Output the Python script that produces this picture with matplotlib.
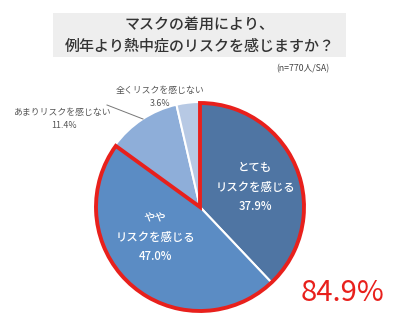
import matplotlib
matplotlib.use("Agg")
import matplotlib.pyplot as plt
from matplotlib.patches import Wedge, Rectangle

plt.rcParams['font.family'] = ['Noto Sans CJK JP', 'DejaVu Sans']

title = "マスクの着用により、\n例年より熱中症のリスクを感じますか？"
note = "(n=770人/SA)"
categories = ["とても\nリスクを感じる", "やや\nリスクを感じる", "あまりリスクを感じない", "全くリスクを感じない"]
values = [37.9, 47.0, 11.4, 3.6]
colors = ["#4f75a3", "#5b8cc4", "#8eaed9", "#b7c9e4"]
highlight = "84.9%"

W, H = 400, 330
fig = plt.figure(figsize=(W / 100, H / 100), dpi=100)
ax = fig.add_axes([0, 0, 1, 1])

def Y(y):
    return H - y

cx, cy, r = 200, Y(207), 105
wedges, _ = ax.pie(values, colors=colors, startangle=90, counterclock=False,
                   center=(cx, cy), radius=r, frame=True,
                   wedgeprops=dict(edgecolor='white', linewidth=1.5))
ax.set_xlim(0, W)
ax.set_ylim(0, H)
ax.set_aspect('equal')
ax.axis('off')

# title box
ax.add_patch(Rectangle((53, Y(57)), 293, 44, facecolor="#eeeeee", edgecolor="none"))
ax.text(200, Y(35), title, ha='center', va='center', fontsize=10.8, color="#333333",
        fontweight='medium', linespacing=1.35)
ax.text(303, Y(69), note, ha='center', va='center', fontsize=6.3, color="#444444")

# red outline around the first two slices
tot = sum(values)
frac = (values[0] + values[1]) / tot
ax.add_patch(Wedge((cx, cy), r - 1, 90 - 360 * frac, 90, fill=False,
                   edgecolor="#e8201c", linewidth=2.8, joinstyle='miter'))

# in-slice labels
ax.text(255, Y(187), categories[0] + "\n" + f"{values[0]:.1f}%", ha='center', va='center',
        fontsize=8.2, color='white', linespacing=1.6, fontweight='medium')
ax.text(155, Y(237), categories[1] + "\n" + f"{values[1]:.1f}%", ha='center', va='center',
        fontsize=8.2, color='white', linespacing=1.6, fontweight='medium')

# outside labels
ax.text(62, Y(112), categories[2], ha='center', va='center', fontsize=6.4, color="#555555")
ax.text(64, Y(125), f"{values[2]:.1f}%", ha='center', va='center', fontsize=6.4, color="#555555")
ax.plot([107, 143], [Y(105), Y(119)], color="#777777", linewidth=0.7)
ax.text(160, Y(90), categories[3], ha='center', va='center', fontsize=6.4, color="#555555")
ax.text(160, Y(104), f"{values[3]:.1f}%", ha='center', va='center', fontsize=6.4, color="#555555")

ax.text(342, Y(293), highlight, ha='center', va='center', fontsize=21, color="#e8201c")

fig.savefig("out.png", dpi=100)
